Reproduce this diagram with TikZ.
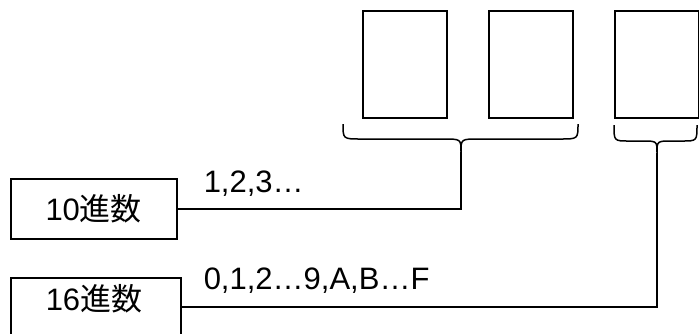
\documentclass[tikz,border=0pt]{standalone}
\usepackage{fontspec}
\setmainfont{Liberation Sans}
\newfontfamily\jpfont{Noto Sans CJK JP}
\begin{document}
\begin{tikzpicture}[x=1pt,y=-1pt,
  line width=1.5pt,
  cell/.style={draw, minimum width=84pt, minimum height=107pt, anchor=north west, inner sep=0pt},
  basebox/.style={draw, anchor=north west, inner sep=0pt},
  big/.style={font=\fontsize{31}{34}\selectfont},
  lbl/.style={big, anchor=base west, inner sep=0pt},
  link/.style={line width=1.5pt}
]
\useasboundingbox (0,0) rectangle (699,333);

% digit cells
\node[cell] (c1) at (362,10) {};
\node[cell] (c2) at (488,10) {};
\node[cell] (c3) at (614,10) {};

% braces under the cells
\coordinate (tipA) at (461,152);
\coordinate (tipB) at (657,153);
\draw (343,124) .. controls (343,139) .. (361,139) -- (443,139)
      .. controls (461,139) .. (tipA)
      .. controls (461,139) .. (479,139) -- (560,139)
      .. controls (578,139) .. (578,124);
\draw (614,125) .. controls (614,141) .. (629,141) -- (642,141)
      .. controls (657,141) .. (tipB)
      .. controls (657,141) .. (672,141) -- (682,141)
      .. controls (697,141) .. (697,125);

% base boxes
\node[basebox, minimum width=166pt, minimum height=60pt] (dec) at (10,178) {};
\node[big] at (dec.center) {10{\jpfont 進数}};
\node[basebox, minimum width=170pt, minimum height=58pt] (hex) at (10,277) {};
\node[big] at (94,299) {16{\jpfont 進数}};

% connectors
\draw[link] (tipA) |- (dec.east);
\draw[link] (tipB) |- (hex.east);

% digit labels
\node[lbl] (ldec) at (203,192) {1,2,3…};
\node[lbl] (lhex) at (203,289) {0,1,2…9,A,B…F};
\end{tikzpicture}
\end{document}
